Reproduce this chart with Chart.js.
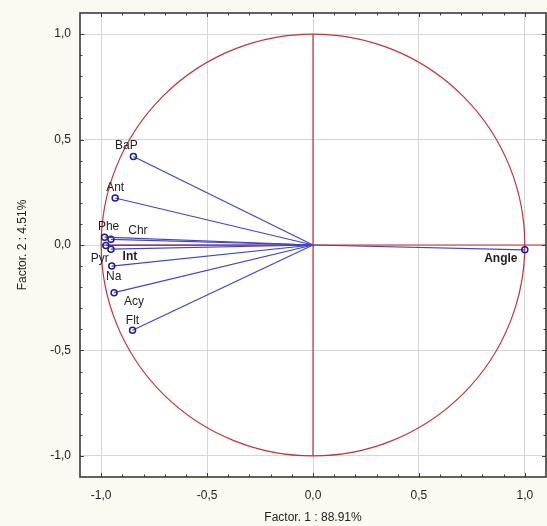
<!DOCTYPE html>
<html>
<head>
<meta charset="utf-8">
<script src="https://cdn.jsdelivr.net/npm/chart.js@4.4.0/dist/chart.umd.min.js"></script>
<style>
  html, body { margin: 0; padding: 0; background: #fcfaf0; }
  #wrap { width: 547px; height: 526px; }
</style>
</head>
<body>
<div id="wrap"><canvas id="c" width="547" height="526"></canvas></div>
<script>
// ---- data ----
const variables = ['BaP', 'Ant', 'Phe', 'Chr', 'Pyr', 'Int', 'Na', 'Acy', 'Flt', 'Angle'];
const factor1 = [-0.848, -0.934, -0.984, -0.954, -0.978, -0.954, -0.950, -0.939, -0.852, 1.000];
const factor2 = [0.420, 0.223, 0.037, 0.027, -0.002, -0.020, -0.100, -0.226, -0.404, -0.023];
const xTickValues = [-1.0, -0.5, 0.0, 0.5, 1.0];
const xTickLabels = ['-1,0', '-0,5', '0,0', '0,5', '1,0'];
const yTickValues = [-1.0, -0.5, 0.0, 0.5, 1.0];
const yTickLabels = ['-1,0', '-0,5', '0,0', '0,5', '1,0'];
const xTitle = 'Factor. 1 : 88.91%';
const yTitle = 'Factor. 2 : 4.51%';

// ---- styles ----
const lineColor = '#4242c8';
const markerColor = '#1c1ca0';
const circleColor = '#c0343a';
const fontFamily = '"Liberation Sans", Arial, sans-serif';
const labelOffsets = {
  BaP: [-7, -11], Ant: [0, -10], Phe: [4, -11], Chr: [27, -9], Pyr: [-6, 13],
  Int: [19, 7], Na: [2, 11], Acy: [20, 9], Flt: [0, -10], Angle: [-24, 9]
};
const boldLabels = ['Int', 'Angle'];

const datasets = variables.map((name, i) => ({
  label: name,
  data: [{x: 0, y: 0}, {x: factor1[i], y: factor2[i]}],
  showLine: true,
  borderColor: lineColor,
  borderWidth: 1.2,
  pointRadius: (ctx) => ctx.dataIndex === 0 ? 0 : 3,
  pointBorderColor: markerColor,
  pointBackgroundColor: 'rgba(0,0,0,0)',
  pointBorderWidth: 1.5
}));

const decorPlugin = {
  id: 'decor',
  beforeDraw(chart) {
    const {ctx, chartArea: a} = chart;
    ctx.save();
    ctx.fillStyle = '#fcfaf0';
    ctx.fillRect(0, 0, chart.width, chart.height);
    ctx.fillStyle = '#ffffff';
    ctx.fillRect(a.left, a.top, a.right - a.left, a.bottom - a.top);
    ctx.restore();
  },
  beforeDatasetsDraw(chart) {
    const {ctx, scales: {x, y}} = chart;
    const cx = x.getPixelForValue(0), cy = y.getPixelForValue(0);
    const rx = x.getPixelForValue(1) - cx, ry = cy - y.getPixelForValue(1);
    ctx.save();
    ctx.strokeStyle = circleColor;
    ctx.lineWidth = 1.2;
    ctx.beginPath();
    ctx.ellipse(cx, cy, rx, ry, 0, 0, Math.PI * 2);
    ctx.stroke();
    ctx.beginPath();
    ctx.moveTo(x.getPixelForValue(-1), cy);
    ctx.lineTo(x.getPixelForValue(x.max), cy);
    ctx.moveTo(cx, y.getPixelForValue(1));
    ctx.lineTo(cx, y.getPixelForValue(-1));
    ctx.stroke();
    ctx.restore();
  },
  afterDatasetsDraw(chart) {
    const {ctx} = chart;
    ctx.save();
    ctx.fillStyle = '#1e1e1e';
    ctx.textAlign = 'center';
    ctx.textBaseline = 'middle';
    chart.data.datasets.forEach((ds, i) => {
      const el = chart.getDatasetMeta(i).data[1];
      const name = ds.label;
      const off = labelOffsets[name] || [0, -10];
      ctx.font = (boldLabels.includes(name) ? 'bold ' : '') + '12px ' + fontFamily;
      ctx.fillText(name, el.x + off[0], el.y + off[1]);
    });
    ctx.restore();
  },
  afterDraw(chart) {
    const {ctx, chartArea: a, scales: {x, y}} = chart;
    ctx.save();
    ctx.strokeStyle = '#3c3c3c';
    ctx.lineWidth = 1;
    ctx.beginPath();
    for (let i = -10; i <= 10; i++) {
      const v = i / 10;
      const major = (i % 5 === 0);
      const len = major ? 4 : 2.5;
      const px = Math.round(x.getPixelForValue(v)) + 0.5;
      const py = Math.round(y.getPixelForValue(v)) + 0.5;
      ctx.moveTo(px, a.bottom); ctx.lineTo(px, a.bottom - len);
      ctx.moveTo(px, a.top); ctx.lineTo(px, a.top + len);
      ctx.moveTo(a.left, py); ctx.lineTo(a.left + len, py);
      ctx.moveTo(a.right, py); ctx.lineTo(a.right - len, py);
    }
    ctx.stroke();
    ctx.lineWidth = 1.6;
    ctx.strokeStyle = '#3a3a3a';
    ctx.strokeRect(a.left, a.top, a.right - a.left, a.bottom - a.top);
    ctx.restore();
  }
};

new Chart(document.getElementById('c'), {
  type: 'scatter',
  data: { datasets },
  options: {
    responsive: false,
    animation: false,
    devicePixelRatio: 1,
    layout: { autoPadding: false, padding: { top: 13, right: 1, left: 0, bottom: 0 } },
    plugins: { legend: { display: false }, tooltip: { enabled: false } },
    scales: {
      x: {
        type: 'linear', min: -1.1, max: 1.1,
        afterBuildTicks: (s) => { s.ticks = xTickValues.map(v => ({value: v})); },
        afterFit: (s) => { s.height = 49; s.paddingLeft = 0; s.paddingRight = 0; },
        grid: { color: '#d6d6d6', lineWidth: 1, drawTicks: false },
        border: { display: false },
        ticks: {
          padding: 11, color: '#222', font: { size: 12, family: fontFamily },
          maxRotation: 0, autoSkip: false,
          callback: (val, idx) => xTickLabels[idx]
        },
        title: { display: true, text: xTitle, color: '#222', font: { size: 12, family: fontFamily }, padding: { top: 0, bottom: 1 } }
      },
      y: {
        type: 'linear', min: -1.1, max: 1.1,
        afterBuildTicks: (s) => { s.ticks = yTickValues.map(v => ({value: v})); },
        afterFit: (s) => { s.width = 80; s.paddingTop = 0; s.paddingBottom = 0; },
        grid: { color: '#d6d6d6', lineWidth: 1, drawTicks: false },
        border: { display: false },
        ticks: {
          padding: 9, color: '#222', font: { size: 12, family: fontFamily },
          autoSkip: false,
          callback: (val, idx) => yTickLabels[idx]
        },
        title: { display: true, text: yTitle, color: '#222', font: { size: 12, family: fontFamily }, padding: { top: 15, bottom: 0 } }
      }
    }
  },
  plugins: [decorPlugin]
});
</script>
</body>
</html>
